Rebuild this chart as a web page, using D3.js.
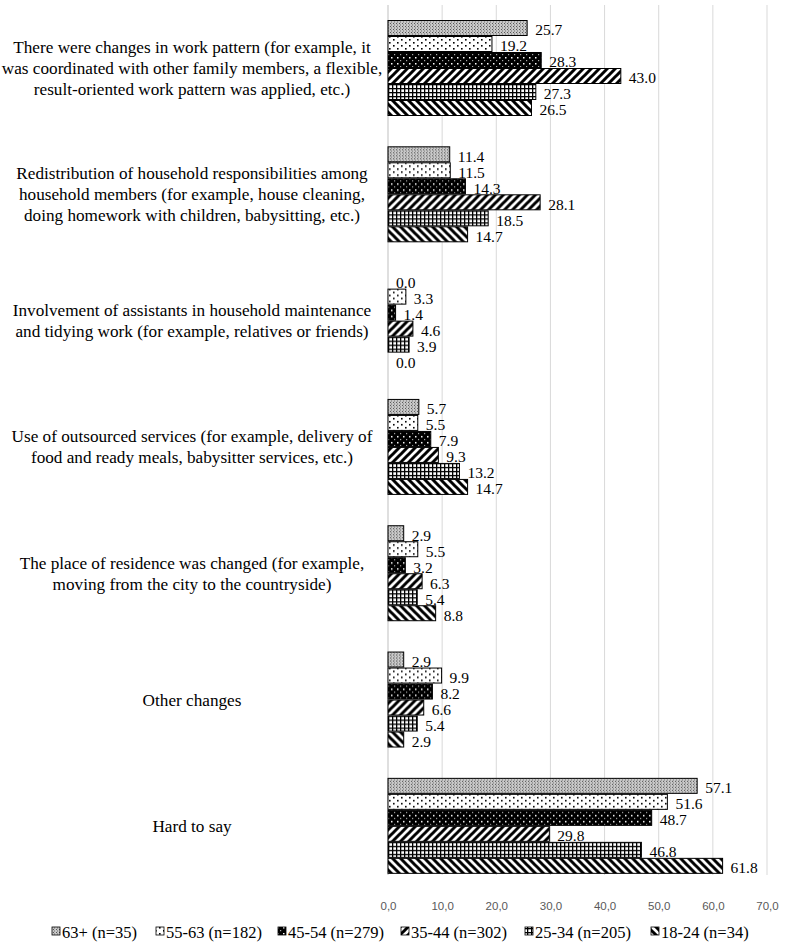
<!DOCTYPE html>
<html>
<head>
<meta charset="utf-8">
<script src="https://cdn.jsdelivr.net/npm/d3@7"></script>
<style>
  html, body { margin: 0; padding: 0; background: #fff; }
  svg { display: block; }
</style>
</head>
<body>
<svg id="chart" width="787" height="942"></svg>
<script>
// ---------- DATA ----------
const categories = [
  "There were changes in work pattern (for example, it was coordinated with other family members, a flexible, result-oriented work pattern was applied, etc.)",
  "Redistribution of household responsibilities among household members (for example, house cleaning, doing homework with children, babysitting, etc.)",
  "Involvement of assistants in household maintenance and tidying work (for example, relatives or friends)",
  "Use of outsourced services (for example, delivery of food and ready meals, babysitter services, etc.)",
  "The place of residence was changed (for example, moving from the city to the countryside)",
  "Other changes",
  "Hard to say"
];
const categoryLines = [
  ["There were changes in work pattern (for example, it", "was coordinated with other family members, a flexible,", "result-oriented work pattern was applied, etc.)"],
  ["Redistribution of household responsibilities among", "household members (for example, house cleaning,", "doing homework with children, babysitting, etc.)"],
  ["Involvement of assistants in household maintenance", "and tidying work (for example, relatives or friends)"],
  ["Use of outsourced services (for example, delivery of", "food and ready meals, babysitter services, etc.)"],
  ["The place of residence was changed (for example,", "moving from the city to the countryside)"],
  ["Other changes"],
  ["Hard to say"]
];
const seriesNames = ["63+ (n=35)", "55-63 (n=182)", "45-54 (n=279)", "35-44 (n=302)", "25-34 (n=205)", "18-24 (n=34)"];
const s63plus = [25.7, 11.4, 0.0, 5.7, 2.9, 2.9, 57.1];
const s55_63  = [19.2, 11.5, 3.3, 5.5, 5.5, 9.9, 51.6];
const s45_54  = [28.3, 14.3, 1.4, 7.9, 3.2, 8.2, 48.7];
const s35_44  = [43.0, 28.1, 4.6, 9.3, 6.3, 6.6, 29.8];
const s25_34  = [27.3, 18.5, 3.9, 13.2, 5.4, 5.4, 46.8];
const s18_24  = [26.5, 14.7, 0.0, 14.7, 8.8, 2.9, 61.8];
const seriesValues = [s63plus, s55_63, s45_54, s35_44, s25_34, s18_24];
const xTicks = [0, 10, 20, 30, 40, 50, 60, 70];

// ---------- SETUP ----------
const SERIF = "'Liberation Serif', 'Times New Roman', serif";
const SANS = "'Liberation Sans', Arial, sans-serif";
const svg = d3.select("#chart");
const defs = svg.append("defs");

function pat(id, w, h) {
  return defs.append("pattern").attr("id", id).attr("patternUnits", "userSpaceOnUse")
    .attr("width", w).attr("height", h || w);
}
// 1: light gray fine dotted
let p = pat("p0", 3);
p.append("rect").attr("width", 3).attr("height", 3).attr("fill", "#c8c8c8");
p.append("rect").attr("x", 0).attr("y", 0).attr("width", 1).attr("height", 1).attr("fill", "#555");
p.append("rect").attr("x", 1).attr("y", 1).attr("width", 1).attr("height", 2).attr("fill", "#9a9a9a");
// 2: white with sparse dots
p = pat("p1", 8, 6);
p.append("rect").attr("width", 8).attr("height", 6).attr("fill", "#fff");
p.append("rect").attr("x", 1).attr("y", 1).attr("width", 1.6).attr("height", 1.6).attr("fill", "#000");
p.append("rect").attr("x", 5).attr("y", 4).attr("width", 1.6).attr("height", 1.6).attr("fill", "#000");
// 3: black with white dots
p = pat("p2", 6);
p.append("rect").attr("width", 6).attr("height", 6).attr("fill", "#000");
p.append("rect").attr("x", 1).attr("y", 1).attr("width", 1.5).attr("height", 1.5).attr("fill", "#fff");
p.append("rect").attr("x", 4).attr("y", 4).attr("width", 1.2).attr("height", 1.2).attr("fill", "#aaa");
// 4: wide upward diagonal
p = pat("p3", 8);
p.append("rect").attr("width", 8).attr("height", 8).attr("fill", "#fff");
p.append("path").attr("d", "M-2,10 L10,-2 M-2,2 L2,-2 M6,10 L10,6").attr("stroke", "#000").attr("stroke-width", 3);
// 5: small grid
p = pat("p4", 4);
p.append("rect").attr("width", 4).attr("height", 4).attr("fill", "#fff");
p.append("rect").attr("x", 0).attr("y", 0).attr("width", 4).attr("height", 1.3).attr("fill", "#000");
p.append("rect").attr("x", 0).attr("y", 0).attr("width", 1.3).attr("height", 4).attr("fill", "#000");
// 6: wide downward diagonal
p = pat("p5", 8);
p.append("rect").attr("width", 8).attr("height", 8).attr("fill", "#fff");
p.append("path").attr("d", "M-2,-2 L10,10 M6,-2 L10,2 M-2,6 L2,10").attr("stroke", "#000").attr("stroke-width", 3);

const fills = seriesNames.map((d, i) => `url(#p${i})`);

// scales
const x = d3.scaleLinear().domain([0, 70]).range([388, 767]);
const y0 = d3.scaleBand().domain(categories).range([4.85, 889]).paddingInner(0.24).paddingOuter(0.12);
const y1 = d3.scaleBand().domain(seriesNames).range([0, y0.bandwidth()]);

const plotTop = 5, plotBottom = 875;

// gridlines
svg.append("g").selectAll("line").data(xTicks).join("line")
  .attr("x1", d => x(d)).attr("x2", d => x(d))
  .attr("y1", plotTop).attr("y2", plotBottom)
  .attr("stroke", d => d === 0 ? "#bfbfbf" : "#d9d9d9").attr("stroke-width", 1);

// x axis tick labels
const xAxis = d3.axisBottom(x).tickValues(xTicks).tickSize(0).tickPadding(0)
  .tickFormat(d => d3.format(".1f")(d).replace(".", ","));
const gx = svg.append("g").attr("transform", `translate(0,${plotBottom + 31})`).call(xAxis);
gx.select(".domain").remove();
gx.attr("font-family", null).attr("font-size", null);
gx.selectAll("text").style("font-family", SANS).style("font-size", "11.5px")
  .attr("fill", "#595959").attr("dy", "0.32em");

// bars
const groups = svg.append("g").selectAll("g").data(categories).join("g")
  .attr("transform", d => `translate(0,${y0(d)})`);

groups.each(function(cat, ci) {
  const g = d3.select(this);
  const rows = seriesNames.map((s, si) => ({ s, si, v: seriesValues[si][ci] }));
  g.selectAll("rect").data(rows).join("rect")
    .attr("x", x(0))
    .attr("y", d => y1(d.s) + 0.5)
    .attr("width", d => x(d.v) - x(0))
    .attr("height", y1.bandwidth() - 1)
    .attr("fill", d => fills[d.si])
    .attr("stroke", "#000").attr("stroke-width", d => d.v > 0 ? 1 : 0);
  g.selectAll("text.val").data(rows).join("text").attr("class", "val")
    .attr("x", d => x(d.v) + 8)
    .attr("y", d => y1(d.s) + y1.bandwidth() / 2 + 2)
    .attr("dy", "0.35em")
    .style("font-family", SERIF)
    .style("font-size", "15.5px")
    .attr("fill", "#000")
    .text(d => d3.format(".1f")(d.v));
});

// category labels
const labelCx = 192, lineH = 21;
categories.forEach((cat, ci) => {
  const lines = categoryLines[ci];
  const cy = y0(cat) + y0.bandwidth() / 2;
  const t = svg.append("text")
    .style("font-family", SERIF)
    .style("font-size", "17.2px").attr("fill", "#000").attr("text-anchor", "middle");
  lines.forEach((ln, li) => {
    t.append("tspan").attr("x", labelCx)
      .attr("y", cy + (li - (lines.length - 1) / 2) * lineH)
      .attr("dy", "0.35em").text(ln);
  });
});

// legend
const legendTextX = [62, 166, 288, 411, 535, 661];
const legY = 932;
const lg = svg.append("g").selectAll("g").data(seriesNames).join("g")
  .attr("transform", (d, i) => `translate(${legendTextX[i]},${legY})`);
lg.append("rect").attr("x", -10).attr("y", -5).attr("width", 8).attr("height", 8)
  .attr("fill", (d, i) => fills[i]).attr("stroke", "#000").attr("stroke-width", 0.8);
lg.append("text").attr("x", 0).attr("y", 0).attr("dy", "0.35em")
  .style("font-family", SERIF).style("font-size", "16.5px")
  .attr("fill", "#000").text(d => d);
</script>
</body>
</html>
